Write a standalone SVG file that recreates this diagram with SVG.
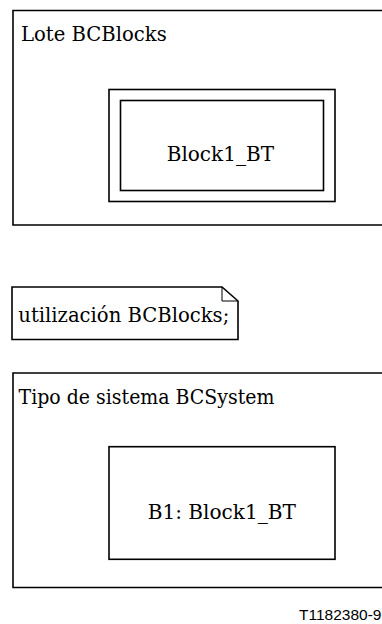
<svg xmlns="http://www.w3.org/2000/svg" width="382" height="624" viewBox="0 0 382 624">
<style>
.ln{fill:none;stroke:#000;stroke-width:1.6}
.fold{fill:none;stroke:#000;stroke-width:1}
.t{font-family:"DejaVu Serif","Liberation Serif",serif;font-size:21px;fill:#000}
.ref{font-family:"Liberation Sans",Arial,sans-serif;font-size:15.5px;fill:#000}
</style>
<rect width="382" height="624" fill="#fff"/>
<g id="package-BCBlocks">
<path class="ln" d="M392,10.5 H13 V225 H392"/>
<text class="t" x="21" y="40.5" textLength="145.7" lengthAdjust="spacingAndGlyphs">Lote BCBlocks</text>
</g>
<g id="blocktype-Block1_BT">
<rect class="ln" x="109" y="89.5" width="226" height="112"/>
<rect class="ln" x="120.5" y="100.5" width="203" height="90"/>
<text class="t" x="166.7" y="161" textLength="107.3" lengthAdjust="spacingAndGlyphs">Block1_BT</text>
</g>
<g id="use-clause">
<path class="ln" d="M12,287 H222 L238,301 V339.5 H12 Z"/>
<path class="fold" d="M222,287 V301 H238"/>
<text class="t" x="18.3" y="322" textLength="211" lengthAdjust="spacingAndGlyphs">utilización BCBlocks;</text>
</g>
<g id="systemtype-BCSystem">
<path class="ln" d="M392,373 H13 V587.5 H392"/>
<text class="t" x="18.5" y="403.5" textLength="256" lengthAdjust="spacingAndGlyphs">Tipo de sistema BCSystem</text>
</g>
<g id="block-B1">
<rect class="ln" x="109" y="446.7" width="226" height="112.6"/>
<text class="t" x="147.7" y="518.5" textLength="148.3" lengthAdjust="spacingAndGlyphs">B1: Block1_BT</text>
</g>
<g id="connectors"></g>
<text class="ref" x="299" y="620">T1182380-9</text>
</svg>
